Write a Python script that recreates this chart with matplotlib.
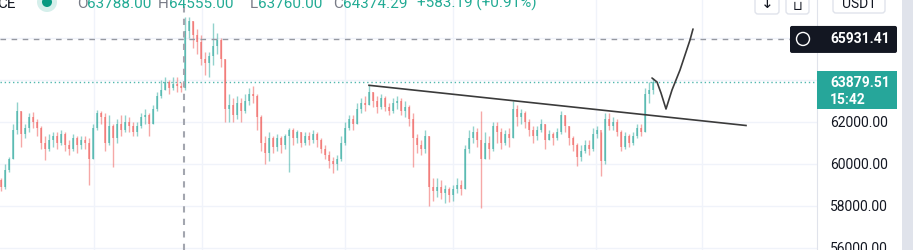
import numpy as np
import matplotlib
matplotlib.use("Agg")
import matplotlib.pyplot as plt
from matplotlib.patches import FancyBboxPatch, Circle, Rectangle
from matplotlib.transforms import IdentityTransform

plt.rcParams['font.family'] = ['Roboto', 'DejaVu Sans']

# candle data (open = previous close)
first_open = 59200
closes = [58900, 59700, 60200, 61600, 62500, 61400, 61700, 62200, 62000, 61700,
          61000, 60700, 61100, 61300, 61000, 61400, 60900, 60700, 61200, 60900,
          61100, 61000, 60200, 61700, 62400, 62200, 61000, 61800, 61200, 61900,
          61600, 62000, 61800, 61500, 61800, 62200, 62300, 61900, 62600, 63200,
          63500, 63900, 63600, 63800, 63700, 63600, 66300, 66800, 66100, 65800,
          65000, 64800, 65100, 65600, 65900, 65000, 62600, 62800, 62300, 62900,
          62500, 63000, 63300, 63200, 62200, 61000, 60500, 61200, 60800, 61200,
          60900, 61300, 61600, 61200, 61500, 61000, 61300, 61100, 61400, 61100,
          60700, 60400, 60100, 60000, 60200, 61000, 61700, 62100, 61900, 62600,
          62900, 62800, 63400, 63000, 62700, 63100, 62700, 62500, 62900, 63000,
          62500, 62700, 62100, 61200, 60900, 60700, 61300, 58900, 58700, 58900,
          58600, 58800, 58500, 58800, 59000, 58800, 60700, 61200, 61500, 61100,
          60200, 61000, 60700, 61800, 61500, 61000, 61400, 61200, 62600, 62200,
          62400, 62000, 61600, 61300, 61600, 61900, 61100, 61400, 61200, 61500,
          62300, 61800, 61200, 60900, 60300, 60600, 60900, 60700, 61400, 61600,
          60100, 62100, 61800, 62000, 61500, 60800, 61300, 61000, 61300, 61700,
          61500, 63300, 63500, 63880]
highs = [59300, 60000, 60300, 61900, 62940, 62500, 61900, 62400, 62450, 62100,
         61800, 61300, 61400, 61500, 61500, 61600, 61500, 61100, 61400, 61300,
         61300, 61300, 61200, 61900, 62550, 62500, 62400, 62300, 61900, 62100,
         62300, 62300, 62200, 62000, 62000, 62400, 62600, 62400, 62800, 63400,
         64000, 64100, 64000, 64100, 64100, 63900, 67000, 67000, 66800, 66400,
         66100, 65300, 65300, 66700, 66200, 66000, 65000, 63300, 63100, 63200,
         63100, 63300, 63600, 63700, 63300, 62300, 61300, 61500, 61300, 61400,
         61300, 61400, 61700, 61700, 61600, 61500, 61500, 61500, 61600, 61500,
         61200, 60900, 60600, 60300, 60400, 61300, 62000, 62300, 62300, 62900,
         63100, 63200, 63740, 63400, 63200, 63300, 63200, 62900, 63100, 63200,
         63100, 63000, 62800, 62400, 61400, 61100, 61600, 61300, 59300, 59300,
         59200, 59000, 58900, 59000, 59300, 59200, 60900, 61600, 61800, 61700,
         62500, 61500, 61300, 62000, 62000, 61700, 61600, 61700, 63000, 62800,
         62600, 62500, 62100, 61800, 61800, 62100, 61900, 61600, 61500, 61700,
         62500, 62300, 61800, 61300, 61000, 60900, 61100, 61100, 61700, 61800,
         61500, 62400, 62400, 62200, 62100, 61600, 61500, 61400, 61500, 61900,
         61900, 63600, 63900, 64070]
lows = [58700, 58800, 59600, 60200, 61400, 60800, 61200, 61500, 61700, 61300,
        60700, 60170, 60600, 60800, 60700, 60900, 60600, 60400, 60600, 60500,
        60700, 60700, 58980, 60200, 61600, 61900, 60600, 60900, 59830, 61000,
        61300, 61500, 61500, 61300, 61300, 61700, 61900, 61300, 61900, 62500,
        63100, 63500, 63300, 63500, 63400, 63400, 63500, 66000, 65500, 65200,
        64700, 64200, 64100, 64700, 65200, 64600, 62000, 62000, 62000, 62100,
        62000, 62400, 62800, 62900, 61600, 60600, 60000, 60100, 60500, 60600,
        60500, 60700, 59600, 60900, 61000, 60800, 60900, 60900, 61000, 60800,
        60500, 60200, 59800, 59540, 59700, 60100, 60900, 61600, 61600, 61900,
        62400, 62500, 62800, 62700, 62400, 62600, 62500, 62300, 62400, 62600,
        62300, 62200, 61800, 59830, 60500, 60400, 60500, 58000, 58200, 58400,
        58300, 58100, 58150, 58200, 58600, 58500, 58800, 60500, 61000, 60800,
        57880, 60200, 60200, 60600, 61000, 60700, 60900, 60800, 61200, 61800,
        61900, 61700, 61300, 61000, 61100, 61500, 60700, 61100, 60900, 61100,
        61400, 61500, 60900, 60600, 59900, 60100, 60500, 60400, 60600, 61200,
        59400, 60000, 61600, 61600, 61300, 60600, 60700, 60800, 60900, 61200,
        61300, 61500, 62900, 63300]

last_price = 63879.51
last_time = "15:42"
cross_price = 65931.41
cross_index = 45.75
grid_prices = [56000, 58000, 60000, 62000, 64000, 66000]
price_ticks = [56000, 58000, 60000, 62000]   # the others sit under the labels
time_grid = [23.25, 50.25, 86, 113, 148.75, 175.25]

# hand drawings on the chart (candle index, price)
trend_idx = [92, 186.25]
trend_price = [63724, 61810]
check_idx = [162.75, 164, 165, 166.25, 167.75, 169.75, 172.25, 173]
check_price = [64071, 63881, 63357, 62595, 63500, 64452, 65881, 66405]

header = [("O", "63788.00", 77), ("H", "64555.00", 158),
          ("L", "63760.00", 250), ("C", "64374.29", 333),
          ("", "+583.19 (+0.91%)", 417)]

UP = "#26a69a"
DOWN = "#ef5350"
TEXT = "#131722"

W, H = 913, 250
fig = plt.figure(figsize=(W / 100, H / 100), dpi=100)
ax = fig.add_axes([0, 0, 817 / W, 1])
ax.set_xlim(-0.25, 204)
ax.set_ylim(55881, 67786)

for s in ["top", "left", "bottom"]:
    ax.spines[s].set_visible(False)
ax.spines["right"].set_color("#e0e3eb")
ax.set_xticks([])
ax.yaxis.tick_right()
ax.set_yticks(price_ticks)
ax.set_yticklabels([f"{p:.2f}" for p in price_ticks])
ax.tick_params(axis="y", length=0, pad=9.4, labelsize=10, labelcolor=TEXT)
for lab in ax.get_yticklabels():
    lab.set_horizontalalignment("left")

for p in grid_prices:
    ax.axhline(p, color="#f0f3fa", lw=1, zorder=0)
for t in time_grid:
    ax.axvline(t, color="#f0f3fa", lw=1, zorder=0)

idx = np.arange(len(closes))
c = np.array(closes, dtype=float)
o = np.array([first_open] + closes[:-1], dtype=float)
cols = np.where(c >= o, UP, DOWN)
ax.vlines(idx, lows, highs, colors=cols, lw=1, alpha=0.5, zorder=2)
ax.bar(idx, c - o, bottom=o, width=0.5, color=cols, alpha=0.5, lw=0, zorder=2)

# last price and crosshair
ax.axhline(last_price, color=UP, lw=1, ls=(0, (1, 2)), alpha=0.8, zorder=1)
ax.axhline(cross_price, color="#9598a1", lw=1, ls=(0, (4, 4)), zorder=3)
ax.axvline(cross_index, color="#a3a6af", lw=1.5, ls=(0, (3, 3)), zorder=3)

ax.plot(trend_idx, trend_price, color="#3b3b3b", lw=1.2, zorder=4)
ax.plot(check_idx, check_price, color="#3b3b3b", lw=1.2, zorder=4,
        solid_joinstyle="round", solid_capstyle="round")

# ---- figure chrome in pixel coordinates ----
ident = IdentityTransform()


def py(p):
    return ax.transData.transform((0, p))[1]


def box(x0, y0, x1, y1, fc, ec="none", r=2, lw=1):
    fig.add_artist(FancyBboxPatch((x0, H - y1), x1 - x0, y1 - y0,
                                  boxstyle=f"round,pad=0,rounding_size={r}",
                                  fc=fc, ec=ec, lw=lw, transform=ident))


fig.add_artist(Rectangle((902, 0), 11, H, fc="#e0e3eb", ec="none", transform=ident))

# crosshair price label
yc = py(cross_price)
fig.add_artist(FancyBboxPatch((790, yc - 14), 107, 27,
                              boxstyle="round,pad=0,rounding_size=2",
                              fc=TEXT, ec="none", transform=ident))
fig.add_artist(Circle((803, yc), 6.5, fc="none", ec="white", lw=1, transform=ident))
fig.add_artist(Rectangle((799.5, yc - 0.4), 7, 0.8, fc="white", ec="none", transform=ident))
fig.add_artist(Rectangle((802.6, yc - 3.5), 0.8, 7, fc="white", ec="none", transform=ident))
fig.text(830, yc, f"{cross_price:.2f}", color="white", fontsize=10,
         fontweight="bold", va="center", ha="left", transform=ident)

# last price label
yl = py(last_price)
fig.add_artist(Rectangle((817, yl - 27), 80, 38, fc="#26a69a", ec="none", transform=ident))
fig.text(830, yl - 1, f"{last_price:.2f}", color="white", fontsize=10,
         fontweight="bold", va="center", ha="left", transform=ident)
fig.text(830, yl - 17.5, last_time, color="white", fontsize=10,
         fontweight="bold", va="center", ha="left", transform=ident)

# header legend (cut off at top)
fig.text(16, H - 8, "CE", color=TEXT, fontsize=11, ha="right", va="baseline",
         transform=ident)
fig.add_artist(Circle((47, H - 2), 10, fc="#d5efeb", ec="none", transform=ident))
fig.add_artist(Circle((47, H - 2), 5, fc="#089981", ec="none", transform=ident))
fig.canvas.draw()
for lab, val, x in header:
    xv = x
    if lab:
        t = fig.text(x, H - 8, lab, color="#787b86", fontsize=11, va="baseline",
                     transform=ident)
        xv = t.get_window_extent(fig.canvas.get_renderer()).x1
    fig.text(xv, H - 8, val, color="#22ab94", fontsize=11, va="baseline",
             transform=ident)

# toolbar buttons
box(755, -6, 779, 14, "white", "#e0e3eb", r=3)
box(786, -6, 809, 14, "white", "#e0e3eb", r=3)
box(833, -6, 885, 13, "white", "#e0e3eb", r=3)
fig.text(767, H - 4, "\u2193", color=TEXT, fontsize=11, ha="center", va="center",
         family="DejaVu Sans", transform=ident)
fig.text(797.5, H - 6, "\u2294", color=TEXT, fontsize=9, ha="center", va="center",
         family="DejaVu Sans", transform=ident)
fig.text(859, H - 4, "USDT", color=TEXT, fontsize=10, ha="center", va="center",
         transform=ident)

fig.savefig("out.png", dpi=100)
